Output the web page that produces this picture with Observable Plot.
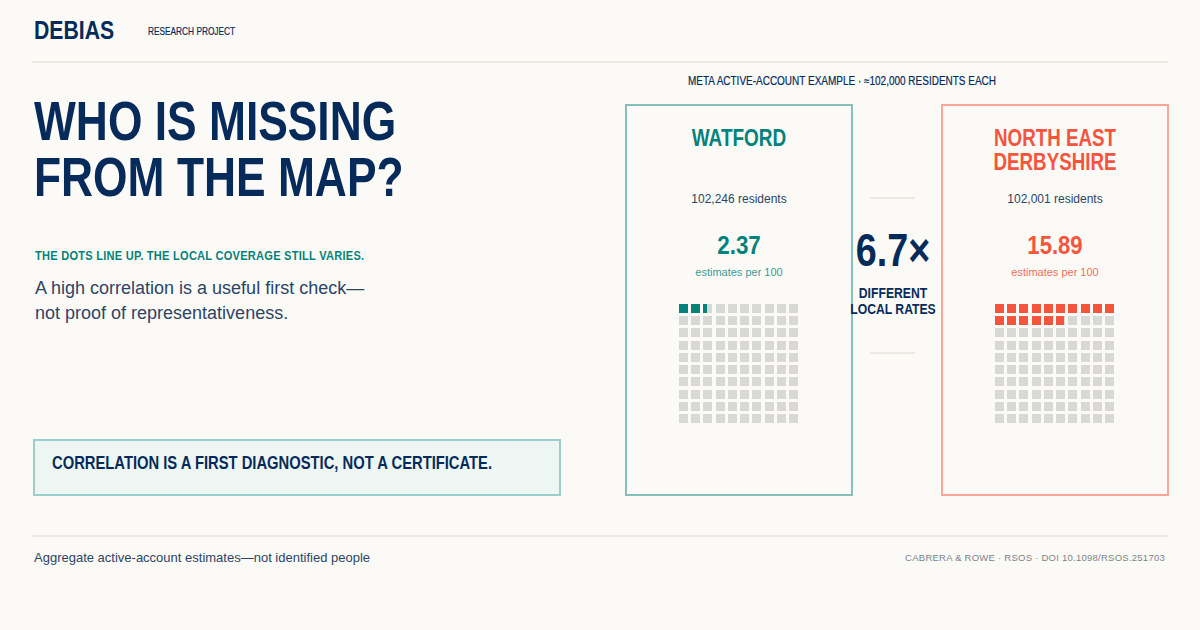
<!DOCTYPE html>
<html><head><meta charset="utf-8">
<script src="https://cdn.jsdelivr.net/npm/d3@7"></script>
<script src="https://cdn.jsdelivr.net/npm/@observablehq/plot@0.6"></script>
<style>
html,body{margin:0;padding:0;background:#fcfaf6;}
#page{position:relative;width:1200px;height:630px;overflow:hidden;background:#fcfaf6;font-family:"Liberation Sans",Arial,sans-serif;color:#062b5b;}
#page>div{position:absolute;white-space:nowrap;}
.n{transform-origin:0 50%;}
.c{text-align:center;}
.n.c{transform-origin:50% 50%;}
.rule{background:#ece9e4;height:2px;}
.srule{background:#ece9e4;height:2px;width:45px;}
.card{box-sizing:border-box;width:228px;height:392px;top:104px;background:transparent;}
.s{-webkit-text-stroke:.2px currentColor;}
</style></head><body>
<div id="page">
<div class="n" style="left:34px;top:15px;font-size:26px;font-weight:700;line-height:30px;transform:scaleX(.816);">DEBIAS</div>
<div class="n s" style="left:148px;top:24px;font-size:10.5px;line-height:14px;transform:scaleX(.79);">RESEARCH PROJECT</div>
<div class="rule" style="left:32px;top:61px;width:1136px;"></div>
<div class="n" style="left:34px;top:93px;font-size:56px;font-weight:700;line-height:56px;transform:scaleX(.792);">WHO IS MISSING<br>FROM THE MAP?</div>
<div class="n" style="left:35px;top:248px;font-size:13px;font-weight:700;line-height:16px;color:#04827b;letter-spacing:.3px;transform:scaleX(.85);">THE DOTS LINE UP. THE LOCAL COVERAGE STILL VARIES.</div>
<div style="left:35px;top:276px;font-size:18px;line-height:24.5px;color:#2c4565;">A high correlation is a useful first check—<br>not proof of representativeness.</div>
<div style="left:33px;top:439px;width:528px;height:57px;box-sizing:border-box;background:#eef6f3;border:2px solid #98cfcb;"></div>
<div class="n" style="left:52px;top:452px;font-size:18px;font-weight:700;line-height:22px;transform:scaleX(.82);">CORRELATION IS A FIRST DIAGNOSTIC, NOT A CERTIFICATE.</div>
<div class="n c s" style="left:626px;width:432px;top:74px;font-size:12px;line-height:14px;transform:scaleX(.832);">META ACTIVE-ACCOUNT EXAMPLE · ≈102,000 RESIDENTS EACH</div>

<div class="card" style="left:625px;border:2px solid #84c0bc;"></div>
<div class="n c" style="left:625px;width:228px;top:126px;font-size:23px;font-weight:700;line-height:24px;color:#04827b;transform:scaleX(.825);">WATFORD</div>
<div class="c" style="left:625px;width:228px;top:192px;font-size:12px;line-height:15px;color:#2c4565;">102,246 residents</div>
<div class="n c" style="left:625px;width:228px;top:230px;font-size:26px;font-weight:700;line-height:30px;color:#04827b;transform:scaleX(.86);">2.37</div>
<div class="c" style="left:625px;width:228px;top:265px;font-size:11px;line-height:14px;color:#3a9a95;">estimates per 100</div>
<div id="w1" style="left:679px;top:304px;"></div>

<div class="card" style="left:941px;border:2px solid #fba696;"></div>
<div class="n c" style="left:941px;width:228px;top:126px;font-size:23px;font-weight:700;line-height:24px;color:#f4553c;transform:scaleX(.815);">NORTH EAST<br>DERBYSHIRE</div>
<div class="c" style="left:941px;width:228px;top:192px;font-size:12px;line-height:15px;color:#2c4565;">102,001 residents</div>
<div class="n c" style="left:941px;width:228px;top:230px;font-size:26px;font-weight:700;line-height:30px;color:#f4553c;transform:scaleX(.85);">15.89</div>
<div class="c" style="left:941px;width:228px;top:265px;font-size:11px;line-height:14px;color:#f4705a;">estimates per 100</div>
<div id="w2" style="left:995px;top:304px;"></div>

<div class="srule" style="left:870px;top:197px;"></div>
<div class="n c" style="left:843px;width:100px;top:224px;font-size:46px;font-weight:700;line-height:52px;transform:scaleX(.82);">6.7×</div>
<div class="n c" style="left:843px;width:100px;top:286px;font-size:14px;font-weight:700;line-height:15.5px;transform:scaleX(.87);">DIFFERENT<br>LOCAL RATES</div>
<div class="srule" style="left:870px;top:352px;"></div>

<div class="rule" style="left:32px;top:535px;width:1136px;"></div>
<div style="left:34px;top:550px;font-size:13px;line-height:15px;color:#2c4565;">Aggregate active-account estimates—not identified people</div>
<div style="right:35px;top:551px;font-size:9.5px;line-height:13px;color:#7b8489;letter-spacing:.25px;">CABRERA &amp; ROWE · RSOS · DOI 10.1098/RSOS.251703</div>
</div>
<script>
const cols = d3.range(10);
const rows = d3.range(10);
const places = ["Watford", "North East Derbyshire"];
const ratesPer100 = [2.37, 15.89];
const fills = ["#04827b", "#f4553c"];
const empty = "#d8d9d4";
const cellShare = 9 / 12.22;

function waffle(rate, color) {
  const cells = rows.flatMap(r => cols.map(c => ({r, c, i: r * 10 + c})));
  const filled = cells
    .filter(d => d.i < rate)
    .map(d => ({...d, share: Math.min(1, rate - d.i)}));
  const rectOpts = {
    x1: "c", y1: "r",
    y2: d => d.r + cellShare,
    shapeRendering: "crispEdges", inset: 0
  };
  return Plot.plot({
    width: 119, height: 119,
    margin: 0,
    x: {domain: [0, 9 + cellShare], range: [0, 119], axis: null},
    y: {domain: [0, 9 + cellShare], range: [0, 119], axis: null},
    style: {background: "transparent", display: "block"},
    marks: [
      Plot.rect(cells, {...rectOpts, x2: d => d.c + cellShare, fill: empty}),
      Plot.rect(filled, {...rectOpts, x2: d => d.c + cellShare * d.share, fill: color})
    ]
  });
}
document.getElementById("w1").append(waffle(ratesPer100[0], fills[0]));
document.getElementById("w2").append(waffle(ratesPer100[1], fills[1]));
</script>
</body></html>
